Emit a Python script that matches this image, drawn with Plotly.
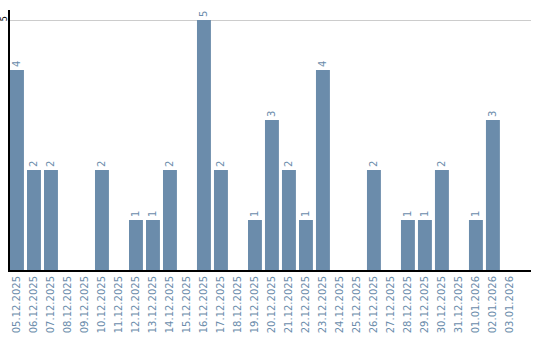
import plotly.graph_objects as go

dates = ["05.12.2025", "06.12.2025", "07.12.2025", "08.12.2025", "09.12.2025",
         "10.12.2025", "11.12.2025", "12.12.2025", "13.12.2025", "14.12.2025",
         "15.12.2025", "16.12.2025", "17.12.2025", "18.12.2025", "19.12.2025",
         "20.12.2025", "21.12.2025", "22.12.2025", "23.12.2025", "24.12.2025",
         "25.12.2025", "26.12.2025", "27.12.2025", "28.12.2025", "29.12.2025",
         "30.12.2025", "31.12.2025", "01.01.2026", "02.01.2026", "03.01.2026"]
counts = [4, 2, 2, 0, 0, 2, 0, 1, 1, 2, 0, 5, 2, 0, 1, 3, 2, 1, 4, 0, 0, 2, 0, 1, 1, 2, 0, 1, 3, 0]

bar_color = "#6b8cab"
labels = [str(v) if v > 0 else "" for v in counts]

fig = go.Figure(go.Bar(
    x=dates, y=counts, marker_color=bar_color, marker_line_width=0,
    width=0.82, text=labels, textposition="outside", textangle=-90,
    textfont=dict(family="DejaVu Sans", size=10, color=bar_color),
    cliponaxis=False,
))

fig.update_layout(
    width=540, height=340,
    margin=dict(l=10, r=9, t=10, b=70),
    plot_bgcolor="white", paper_bgcolor="white",
    showlegend=False,
    font=dict(family="DejaVu Sans", size=10),
)
fig.update_xaxes(
    type="category", range=[-0.41, 30.24], automargin=False,
    showline=True, linecolor="black", linewidth=2,
    showgrid=False, ticks="", tickangle=-90,
    tickfont=dict(family="DejaVu Sans", size=10, color="#6b8cab"),
)
fig.update_yaxes(
    range=[0, 5.2], tickvals=[5], ticktext=["5"], automargin=False,
    showline=True, linecolor="black", linewidth=2,
    showgrid=True, gridcolor="#cccccc", gridwidth=1,
    zeroline=False, ticks="", tickangle=-90, ticklabelstandoff=-2,
    tickfont=dict(family="DejaVu Sans", size=8, color="black"),
)

fig.write_html("out.html")
